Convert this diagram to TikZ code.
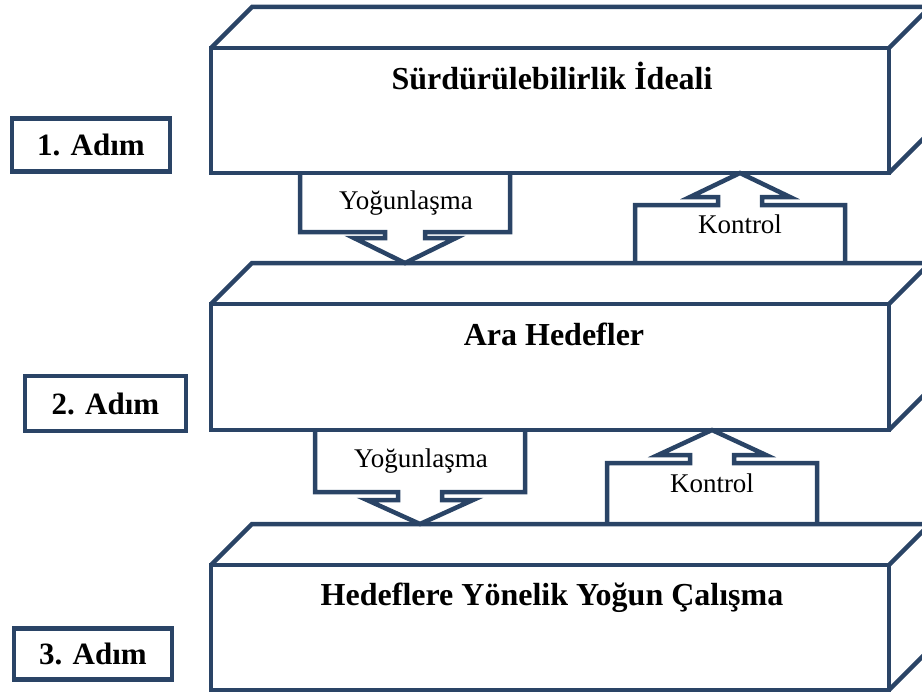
\documentclass[tikz,border=0pt]{standalone}
\usepackage{fontspec}
\setmainfont{Liberation Serif}
\definecolor{navy}{HTML}{2A4466}
\begin{document}
\begin{tikzpicture}[x=1pt,y=-1pt,color=navy,line width=4.5pt,line join=miter]
    \tikzstyle{every node}=[text=black,inner sep=0pt];
    \tikzstyle{adim}=[draw=navy,rectangle,font=\fontsize{31}{36}\selectfont\bfseries];
    \tikzstyle{baslik}=[anchor=base,font=\fontsize{32}{38}\selectfont\bfseries];
    \tikzstyle{ok}=[anchor=base,font=\fontsize{27}{32}\selectfont];
    \useasboundingbox (0,0) rectangle (922,693);
    \clip (0,0) rectangle (922,693);

    % katmanlar
    \draw (211,48) rectangle (889,173);
    \draw (211,48) -- (252,7) -- (930,7) -- (889,48);
    \draw (930,7) -- (930,132) -- (889,173);

    \draw (211,304) rectangle (889,430);
    \draw (211,304) -- (252,263) -- (930,263) -- (889,304);
    \draw (930,263) -- (930,389) -- (889,430);

    \draw (211,565) rectangle (889,690);
    \draw (211,565) -- (252,524) -- (930,524) -- (889,565);
    \draw (930,524) -- (930,649) -- (889,690);

    \node at (552,89)  (k1) [baslik] {Sürdürülebilirlik İdeali};
    \node at (554,345) (k2) [baslik] {Ara Hedefler};
    \node at (552,605) (k3) [baslik] {Hedeflere Yönelik Yoğun Çalışma};

    % oklar
    \draw (300,173) -- (300,232) -- (385,232) -- (385,238) -- (354,238) -- (405,263)
          -- (456,238) -- (425,238) -- (425,232) -- (510,232) -- (510,173);
    \draw (635,263) -- (635,205) -- (718,205) -- (718,197) -- (690,197) -- (740,173)
          -- (790,197) -- (762,197) -- (762,205) -- (845,205) -- (845,263);
    \draw (315,430) -- (315,492) -- (398,492) -- (398,500) -- (367,500) -- (420,524)
          -- (473,500) -- (442,500) -- (442,492) -- (525,492) -- (525,430);
    \draw (607,524) -- (607,463) -- (690,463) -- (690,455) -- (658,455) -- (712,430)
          -- (766,455) -- (734,455) -- (734,463) -- (817,463) -- (817,524);

    \node at (406,209) (y1) [ok] {Yoğunlaşma};
    \node at (740,233) (c1) [ok] {Kontrol};
    \node at (421,467) (y2) [ok] {Yoğunlaşma};
    \node at (712,492) (c2) [ok] {Kontrol};

    % adimlar
    \node at (91,145)    (s1) [adim,minimum width=158,minimum height=53] {1. Adım};
    \node at (105.5,403.5) (s2) [adim,minimum width=161,minimum height=55] {2. Adım};
    \node at (93,654)    (s3) [adim,minimum width=158,minimum height=51] {3. Adım};
\end{tikzpicture}
\end{document}
